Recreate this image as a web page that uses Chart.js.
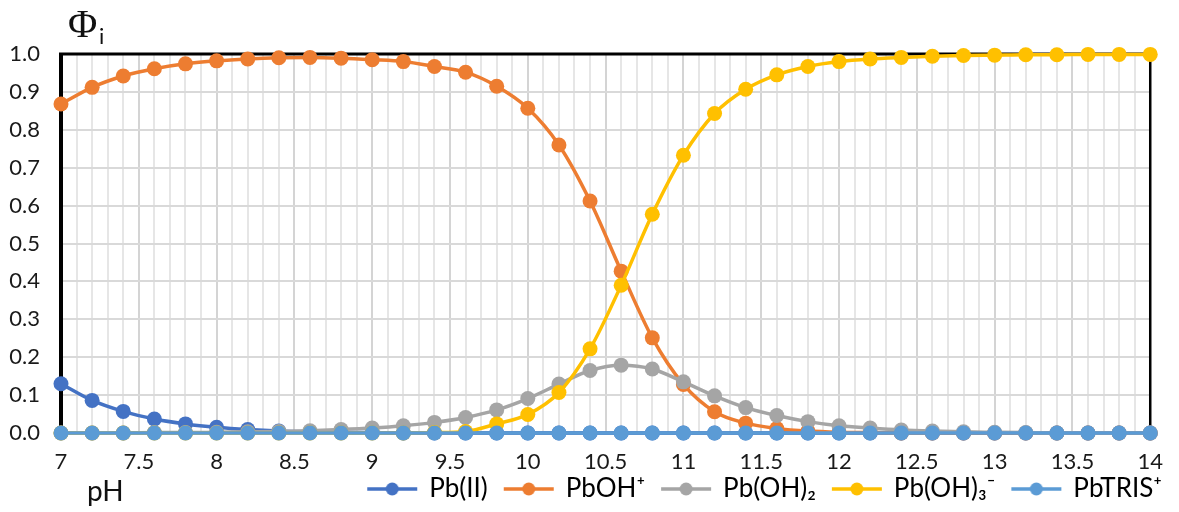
<!DOCTYPE html>
<html lang="en">
<head>
    <meta charset="UTF-8">
    <script src="https://cdn.jsdelivr.net/npm/chart.js"></script>
    <title>Pb species</title>
    <style>
        body { margin: 0; background: #fff; }
        .caixa { position: relative; width: 1179px; height: 512px; }
        .phi { position: absolute; left: 68px; top: 0px; font-family: "Liberation Serif", "DejaVu Serif", serif; font-size: 40px; color: #111; }
        .phi-i { position: absolute; left: 99px; top: 22px; font-family: Lato, "Noto Sans", sans-serif; font-size: 22px; color: #111; }
        .ph { position: absolute; left: 87px; top: 473px; font-family: Lato, "Noto Sans", sans-serif; font-size: 28px; color: #111; }
    </style>
</head>
<body>
<div class="caixa">
    <canvas id="grafico" width="1179" height="512"></canvas>
    <div class="phi">Φ</div>
    <div class="phi-i">i</div>
    <div class="ph">pH</div>
</div>
<script>

// dados
const pH = [7, 7.2, 7.4, 7.6, 7.8, 8, 8.2, 8.4, 8.6, 8.8, 9, 9.2, 9.4, 9.6, 9.8, 10, 10.2, 10.4, 10.6, 10.8,
            11, 11.2, 11.4, 11.6, 11.8, 12, 12.2, 12.4, 12.6, 12.8, 13, 13.2, 13.4, 13.6, 13.8, 14];

const pbII = [0.130, 0.086, 0.057, 0.037, 0.024, 0.015, 0.009, 0.005, 0.003, 0.002, 0.001, 0, 0, 0, 0, 0, 0, 0, 0, 0,
              0, 0, 0, 0, 0, 0, 0, 0, 0, 0, 0, 0, 0, 0, 0, 0];

const pbOH = [0.868, 0.912, 0.942, 0.961, 0.974, 0.982, 0.987, 0.990, 0.991, 0.989, 0.985, 0.980, 0.967, 0.952, 0.915, 0.857, 0.760, 0.612, 0.427, 0.251,
              0.128, 0.056, 0.026, 0.012, 0.005, 0.002, 0.001, 0, 0, 0, 0, 0, 0, 0, 0, 0];

const pbOH2 = [0, 0, 0, 0.001, 0.001, 0.002, 0.003, 0.004, 0.006, 0.009, 0.013, 0.019, 0.028, 0.041, 0.061, 0.091, 0.129, 0.165, 0.179, 0.169,
               0.135, 0.098, 0.067, 0.046, 0.030, 0.019, 0.013, 0.008, 0.005, 0.003, 0.002, 0.001, 0, 0, 0, 0];

const pbOH3 = [0, 0, 0, 0, 0, 0, 0, 0, 0, 0, 0, 0, 0.001, 0.004, 0.024, 0.049, 0.107, 0.222, 0.390, 0.577,
               0.733, 0.843, 0.907, 0.945, 0.967, 0.980, 0.987, 0.991, 0.994, 0.996, 0.997, 0.998, 0.998, 0.999, 0.999, 0.999];

const pbTRIS = [0, 0, 0, 0, 0, 0, 0, 0, 0, 0, 0, 0, 0, 0, 0, 0, 0, 0, 0, 0,
                0, 0, 0, 0, 0, 0, 0, 0, 0, 0, 0, 0, 0, 0, 0, 0];

const nomes = ['Pb(II)', 'PbOH⁺', 'Pb(OH)₂', 'Pb(OH)₃⁻', 'PbTRIS⁺'];
const cores = ['#4472C4', '#ED7D31', '#A5A5A5', '#FFC000', '#5B9BD5'];
const series = [pbII, pbOH, pbOH2, pbOH3, pbTRIS];

// icone da legenda: linha com bolinha
function iconeLegenda(cor) {
    let c = document.createElement('canvas');
    c.width = 54;
    c.height = 16;
    let ctx = c.getContext('2d');
    ctx.strokeStyle = cor;
    ctx.lineWidth = 3.5;
    ctx.beginPath();
    ctx.moveTo(2, 8);
    ctx.lineTo(52, 8);
    ctx.stroke();
    ctx.fillStyle = cor;
    ctx.beginPath();
    ctx.arc(27, 8, 6.5, 0, Math.PI * 2);
    ctx.fill();
    return c;
}

let datasets = [];
for (let i = 0; i < series.length; i++) {
    datasets.push({
        label: nomes[i],
        data: series[i].map((v, k) => ({ x: pH[k], y: v })),
        borderColor: cores[i],
        backgroundColor: cores[i],
        borderWidth: 3.5,
        pointRadius: 7.5,
        pointBorderWidth: 0,
        pointHoverRadius: 7.5,
        cubicInterpolationMode: 'monotone',
        clip: false,
        order: series.length - i
    });
}

// moldura preta do grafico
const moldura = {
    id: 'moldura',
    beforeDatasetsDraw(chart) {
        const a = chart.chartArea;
        const ctx = chart.ctx;
        ctx.save();
        ctx.strokeStyle = '#000';
        ctx.lineWidth = 4;
        ctx.beginPath();
        ctx.moveTo(a.left, a.top - 1);
        ctx.lineTo(a.left, a.bottom);
        ctx.stroke();
        ctx.lineWidth = 3;
        ctx.beginPath();
        ctx.moveTo(a.left - 2, a.top);
        ctx.lineTo(a.right + 1, a.top);
        ctx.stroke();
        ctx.lineWidth = 2.5;
        ctx.beginPath();
        ctx.moveTo(a.right, a.top);
        ctx.lineTo(a.right, a.bottom);
        ctx.moveTo(a.left, a.bottom);
        ctx.lineTo(a.right, a.bottom);
        ctx.stroke();
        ctx.restore();
    }
};

Chart.defaults.font.family = "Lato, 'Noto Sans', sans-serif";
Chart.defaults.color = '#1a1a1a';

function meio(v) {
    return Math.abs(v * 2 - Math.round(v * 2)) < 1e-6;
}

new Chart(document.getElementById('grafico'), {
    type: 'line',
    data: { datasets: datasets },
    plugins: [moldura],
    options: {
        responsive: false,
        animation: false,
        layout: { padding: { top: 54, right: 13, left: 0, bottom: 0 } },
        plugins: {
            tooltip: { enabled: false },
            legend: {
                position: 'bottom',
                align: 'end',
                labels: {
                    usePointStyle: true,
                    pointStyleWidth: 48,
                    padding: 4,
                    font: { size: 26 },
                    color: '#1a1a1a',
                    generateLabels(chart) {
                        const n = chart.data.datasets.length;
                        return chart.data.datasets.map((ds, i) => ({
                            // espaco extra entre os itens
                            text: i < n - 1 ? ds.label + '\u2002' : ds.label,
                            fillStyle: ds.borderColor,
                            strokeStyle: ds.borderColor,
                            lineWidth: 0,
                            pointStyle: iconeLegenda(ds.borderColor),
                            hidden: false,
                            datasetIndex: i
                        }));
                    }
                }
            }
        },
        scales: {
            x: {
                type: 'linear',
                min: 7,
                max: 14,
                border: { display: false },
                grid: {
                    drawTicks: false,
                    lineWidth: 2,
                    color: (c) => meio(c.tick.value) ? '#d4d4d4' : '#e6e6e6'
                },
                ticks: {
                    stepSize: 0.1,
                    autoSkip: false,
                    maxTicksLimit: 200,
                    maxRotation: 0,
                    padding: 16,
                    font: { size: 22 },
                    callback: (v) => meio(v) ? String(Math.round(v * 2) / 2) : ''
                },
                afterFit(scale) {
                    scale.height = 512 - 433 - scale.chart.legend.height;
                }
            },
            y: {
                min: 0,
                max: 1,
                border: { display: false },
                grid: {
                    drawTicks: false,
                    lineWidth: 2,
                    color: '#d9d9d9'
                },
                ticks: {
                    stepSize: 0.1,
                    padding: 21,
                    font: { size: 22 },
                    callback: (v) => v.toFixed(1)
                },
                afterFit(scale) {
                    scale.width = 61;
                }
            }
        }
    }
});

</script>
</body>
</html>
